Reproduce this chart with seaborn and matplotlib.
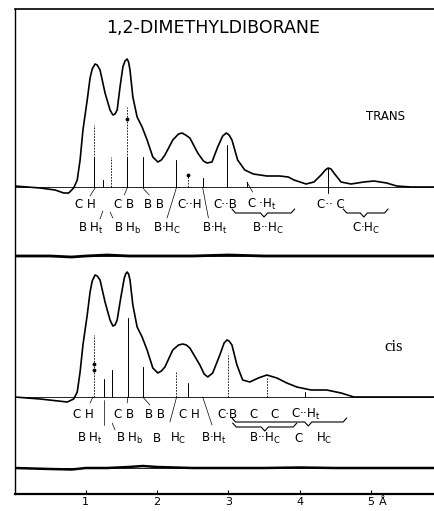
import numpy as np
import pandas as pd
import matplotlib
matplotlib.use("Agg")
import matplotlib.pyplot as plt
import matplotlib.transforms as mtransforms
import seaborn as sns

# radial distribution curves (r in Angstrom, height in plot units above own baseline)
r_trans = [0.0, 0.36, 0.57, 0.69, 0.76, 0.83, 0.88, 0.92, 0.96, 1.02, 1.06, 1.09, 1.13, 1.16,
           1.20, 1.27, 1.34, 1.38, 1.41, 1.44, 1.48, 1.52, 1.55, 1.58, 1.60, 1.62, 1.66, 1.72,
           1.79, 1.86, 1.94, 2.01, 2.06, 2.11, 2.22, 2.30, 2.35, 2.40, 2.46, 2.57, 2.65, 2.70,
           2.77, 2.85, 2.92, 2.97, 3.01, 3.05, 3.13, 3.23, 3.35, 3.54, 3.72, 3.84, 3.92, 4.09,
           4.20, 4.30, 4.36, 4.40, 4.44, 4.48, 4.58, 4.72, 4.90, 5.04, 5.22, 5.36, 5.56, 5.88]
g_trans = [1, -1, -3, -6, -6, -1, 7, 27, 57, 87, 109, 118, 123, 122,
           117, 94, 77, 72, 73, 77, 100, 120, 126, 128, 125, 117, 90, 70,
           60, 47, 30, 25, 27, 32, 47, 53, 54, 52, 49, 34, 26, 24,
           25, 40, 51, 54, 52, 47, 27, 17, 13, 11, 11, 10, 7, 3,
           5, 12, 17, 19, 18, 14, 5, 3, 5, 6, 4, 1, 0, 0]

r_cis = [0.0, 0.36, 0.74, 0.83, 0.88, 0.92, 0.96, 1.02, 1.06, 1.09, 1.13, 1.16, 1.20, 1.27,
         1.34, 1.38, 1.41, 1.44, 1.49, 1.54, 1.56, 1.58, 1.60, 1.62, 1.66, 1.72, 1.79, 1.86,
         1.94, 2.01, 2.06, 2.11, 2.22, 2.30, 2.36, 2.41, 2.46, 2.60, 2.66, 2.71, 2.78, 2.88,
         2.94, 2.98, 3.01, 3.05, 3.12, 3.20, 3.30, 3.42, 3.54, 3.68, 3.82, 3.96, 4.16, 4.38,
         4.58, 4.76, 5.88]
g_cis = [0, -2, -5, -2, 5, 25, 52, 82, 105, 116, 122, 121, 117, 95,
         77, 71, 72, 77, 99, 119, 123, 125, 123, 117, 92, 70, 60, 47,
         29, 24, 26, 30, 47, 52, 53, 52, 49, 32, 23, 20, 24, 42,
         54, 57, 56, 52, 32, 17, 15, 19, 22, 19, 14, 10, 7, 7,
         4, 0, 0]

# difference (experiment - model) curves
r_res = [0.0, 0.5, 0.8, 1.0, 1.3, 1.6, 1.8, 2.0, 2.5, 3.0, 3.5, 4.0, 4.5, 5.0, 5.5, 5.88]
res_trans = [0, 0, -1, 0, 1, 0, 0, 0, 0, 1, 0, 0, 0, 0, 0, 0]
res_cis = [0, -1, -1.5, 0, 0, 1, 2, 1, 0, 0, 0, 0.5, 0, 0, 0, 0]

# distance sticks
trans_stick_r = [1.115, 1.24, 1.35, 1.58, 1.80, 2.27, 2.43, 2.64, 2.98, 3.26, 4.40]
trans_stick_h = [62, 7, 30, 80, 30, 27, 14, 9, 42, 5, 19]
trans_stick_solid = [30, 7, 0, 30, 30, 27, 0, 9, 42, 5, 19]
cis_stick_r = [1.115, 1.255, 1.37, 1.59, 1.80, 2.27, 2.43, 2.99, 3.54, 4.07]
cis_stick_h = [62, 18, 27, 79, 30, 25, 14, 42, 19, 5]
cis_stick_solid = [0, 18, 27, 79, 30, 0, 14, 0, 0, 5]

# labels: (text, r)
trans_row1 = [("C H", 1.00), ("C B", 1.53), ("B B", 1.95), ("C··H", 2.45), ("C··B", 2.95),
              (r"C ·H$_\mathregular{t}$", 3.47), ("C·· C", 4.44)]
trans_row2 = [(r"B H$_\mathregular{t}$", 1.07), (r"B H$_\mathregular{b}$", 1.59),
              (r"B·H$_\mathregular{C}$", 2.14), (r"B·H$_\mathregular{t}$", 2.81),
              (r"B··H$_\mathregular{C}$", 3.56), (r"C·H$_\mathregular{C}$", 4.93)]
cis_row1 = [("C H", 0.97), ("C B", 1.54), ("B B", 1.97), ("C H", 2.45), ("C·B", 2.98),
            ("C", 3.35), ("C", 3.65), (r"C··H$_\mathregular{t}$", 4.09)]
cis_row2 = [(r"B H$_\mathregular{t}$", 1.06), (r"B H$_\mathregular{b}$", 1.62), ("B", 2.0),
            (r"H$_\mathregular{C}$", 2.29), (r"B·H$_\mathregular{t}$", 2.80),
            (r"B··H$_\mathregular{C}$", 3.51), ("C", 3.98), (r"H$_\mathregular{C}$", 4.35)]

# leader lines (r0, h0, r1, h1) relative to baseline
trans_leaders = [(1.13, -1, 1.06, -9), (1.24, -24, 1.20, -32), (1.34, -25, 1.38, -31),
                 (1.58, -1, 1.54, -8), (1.80, -1, 1.89, -8), (2.27, -1, 2.14, -31),
                 (2.64, -1, 2.72, -31), (3.26, 5, 3.34, -5)]
cis_leaders = [(1.10, 0, 1.06, -6), (1.255, -3, 1.255, -28), (1.37, -26, 1.41, -33),
               (1.59, 0, 1.58, -6), (1.80, 0, 1.90, -8), (2.27, -1, 2.18, -25),
               (2.64, 0, 2.77, -28)]

# braces (r_start, r_end, r_tip, h)
trans_braces = [(3.05, 3.93, 3.50, -26), (4.61, 5.24, 4.90, -26)]
cis_braces = [(3.05, 4.66, 4.12, -25), (3.06, 3.96, 3.51, -30)]

TRANS_BASE, TRANS_RES, CIS_BASE, CIS_RES = 307, 238, 97, 26

sns.set_style("white")
plt.rcParams["font.family"] = ["DejaVu Sans"]
plt.rcParams["text.color"] = "black"
plt.rcParams["xtick.color"] = "black"

fig = plt.figure(figsize=(4.34, 5.11), dpi=100)
ax = fig.add_axes([14.5 / 434, 17 / 511, 1 - 14.5 / 434, 485 / 511])
ax.set_xlim(0, 5.884)
ax.set_ylim(0, 485)

curves = [(r_trans, g_trans, TRANS_BASE, 1.2), (r_cis, g_cis, CIS_BASE, 1.2),
          (r_res, res_trans, TRANS_RES, 2.0), (r_res, res_cis, CIS_RES, 1.8)]
for rr, gg, base, lw in curves:
    df = pd.DataFrame({"r": rr, "g": np.array(gg) + base})
    sns.lineplot(data=df, x="r", y="g", ax=ax, color="black", lw=lw, sort=False)
    ax.axhline(base, color="black", lw=0.6)

for rs, hs, sol, base in [(trans_stick_r, trans_stick_h, trans_stick_solid, TRANS_BASE),
                          (cis_stick_r, cis_stick_h, cis_stick_solid, CIS_BASE)]:
    for r, h, s in zip(rs, hs, sol):
        ax.plot([r, r], [base, base + h], color="black", lw=0.6, ls=(0, (2, 1.5)))
        if s > 0:
            ax.plot([r, r], [base, base + s], color="black", lw=0.7)

# cross mark of C..C and small dots
ax.plot([4.40, 4.40], [TRANS_BASE - 6, TRANS_BASE], color="black", lw=0.7)
ax.scatter([1.58, 2.43], [TRANS_BASE + 68, TRANS_BASE + 12], s=3, color="black")
ax.scatter([1.115, 1.115], [CIS_BASE + 27, CIS_BASE + 33], s=3, color="black")

for rows, base in [((trans_row1, trans_row2), TRANS_BASE), ((cis_row1, cis_row2), CIS_BASE)]:
    for row, dh in zip(rows, (-17, -41)):
        for txt, r in row:
            ax.text(r, base + dh, txt, ha="center", va="center", fontsize=8.5)

for leaders, base in [(trans_leaders, TRANS_BASE), (cis_leaders, CIS_BASE)]:
    for r0, h0, r1, h1 in leaders:
        ax.plot([r0, r1], [base + h0, base + h1], color="black", lw=0.5)

for braces, base in [(trans_braces, TRANS_BASE), (cis_braces, CIS_BASE)]:
    for a, b, tip, h in braces:
        xs = [a, a + 0.05, tip - 0.05, tip, tip + 0.05, b - 0.05, b]
        ys = [h + 4, h, h, h - 4, h, h, h + 4]
        ax.plot(xs, np.array(ys) + base, color="black", lw=0.8)

ax.text(2.78, 466, "1,2-DIMETHYLDIBORANE", ha="center", va="center", fontsize=12.5)
ax.text(5.20, 377, "TRANS", ha="center", va="center", fontsize=8.5)
ax.text(5.32, 147, "cis", ha="center", va="center", fontsize=12, family="Liberation Serif")

ax.set_xticks([1, 2, 3, 4, 5])
ax.set_xticklabels(["1", "2", "3", "4", "5"], fontsize=8)
ax.set_yticks([])
ax.tick_params(axis="x", direction="in", length=3, width=0.8, pad=2, bottom=True)
blend = mtransforms.blended_transform_factory(ax.transData, ax.transAxes)
ax.text(5.16, -0.006, "Å", transform=blend, ha="center", va="top", fontsize=8)
ax.set_xlabel("")
ax.set_ylabel("")

for side, lw in [("left", 1.0), ("bottom", 1.6), ("top", 1.2)]:
    ax.spines[side].set_color("black")
    ax.spines[side].set_linewidth(lw)
ax.spines["right"].set_visible(False)

fig.savefig("out.png", dpi=100, facecolor="white")
